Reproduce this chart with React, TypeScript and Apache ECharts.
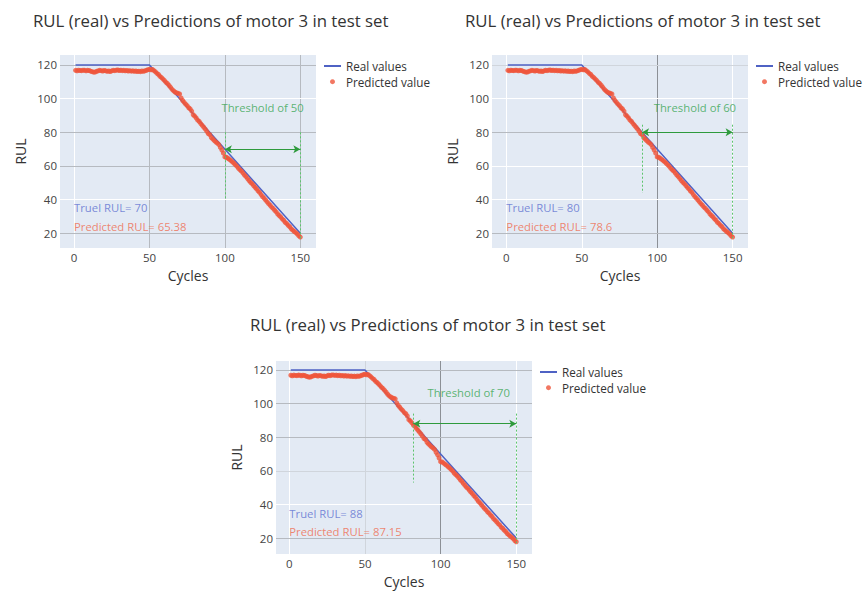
import { useEffect, useRef } from "react";
import * as echarts from "echarts";

const TITLE = "RUL (real) vs Predictions of motor 3 in test set";
const realCycles = [1, 50, 150];
const realRul = [120, 120, 20];
const firstCycle = 1;
const predictedRul = [
  116.8, 116.5, 116.9, 116.7, 116.6, 116.9, 116.8, 116.5, 116.8, 116.7,
  116.3, 116.0, 115.7, 115.8, 116.2, 116.5, 116.8, 116.6, 116.4, 116.7,
  116.5, 116.2, 116.4, 116.1, 116.5, 116.8, 116.6, 116.9, 117.0, 116.7,
  116.9, 116.6, 116.8, 116.5, 116.7, 116.4, 116.6, 116.3, 116.5, 116.2,
  116.4, 116.1, 116.3, 116.0, 116.4, 116.2, 116.5, 116.8, 117.2, 117.4,
  117.1, 117.3, 116.6, 115.9, 115.0, 114.3, 113.2, 112.5, 111.6, 110.7,
  109.6, 108.9, 107.8, 106.7, 105.5, 104.6, 103.9, 103.4, 103.1, 102.8,
  100.4, 98.9, 97.8, 96.7, 95.8, 94.6, 93.9, 92.6, 90.4, 89.6,
  88.5, 87.2, 86.4, 85.2, 84.1, 83.0, 81.9, 80.6, 79.2, 78.6,
  76.9, 76.0, 75.1, 74.2, 73.6, 72.7, 71.0, 69.5, 67.6, 65.4,
  65.2, 64.6, 63.9, 63.2, 62.4, 61.6, 60.7, 59.8, 58.6, 57.7,
  56.9, 55.8, 54.6, 53.7, 52.5, 51.4, 50.3, 49.5, 48.4, 47.3,
  46.4, 45.2, 44.3, 43.0, 41.8, 40.9, 39.8, 38.7, 37.6, 36.7,
  35.6, 34.8, 33.7, 32.8, 31.5, 30.6, 29.7, 28.6, 27.8, 26.5,
  25.8, 24.7, 23.9, 22.7, 21.9, 21.1, 20.4, 19.6, 18.5, 17.8,
];
const thresholds = [50, 60, 70];
const thresholdCycles = [100, 90, 82];
const trueRuls = [70, 80, 88];
const predictedLabels = ["65.38", "78.6", "87.15"];
const dottedTops = [80, 84.5, 94];
const dottedBottoms = [40, 44, 53];
const dottedEnd = 17;
const thresholdTextPos = [
  [125, 95],
  [125, 95],
  [118.6, 106.5],
];
const trueTextY = [35.2, 35.2, 34.7];
const predTextY = [23.9, 23.9, 23.6];
const xTicks = [0, 50, 100, 150];
const yTicks = [20, 40, 60, 80, 100, 120];

const W = "#ffffff";
const G = "#b6bac0";
const L = "#d0d5dc";
const D = "#8c9096";
// gridline shades per chart: vertical (xTicks), horizontal (yTicks)
const vShades = [
  [W, G, G, G],
  [W, W, D, W],
  [W, L, D, W],
];
const hShades = [
  [G, W, G, G, W, G],
  [G, W, W, G, W, L],
  [G, W, L, G, G, G],
];

const layouts = [
  { left: 60, top: 55, width: 256, height: 193, titleLeft: 33, titleTop: 12, legLeft: 323, legTop: 59, xMin: -9.3, xMax: 160.4, yMin: 11.3, yMax: 125.9 },
  { left: 492, top: 55, width: 256, height: 193, titleLeft: 465, titleTop: 12, legLeft: 755, legTop: 59, xMin: -9.5, xMax: 160.2, yMin: 11.3, yMax: 125.9 },
  { left: 276, top: 361, width: 256, height: 193, titleLeft: 250, titleTop: 316, legLeft: 539, legTop: 365, xMin: -8.8, xMax: 160.4, yMin: 10.5, yMax: 125.3 },
];

const FONT = "Open Sans";
const BLUE = "#4f62c4";
const RED = "#EF553B";
const GREEN = "#2e9a3c";

export default function App() {
  const ref = useRef<HTMLDivElement>(null);
  useEffect(() => {
    if (!ref.current) return;
    const chart = echarts.init(ref.current, null, { renderer: "svg" });
    const realData = realCycles.map((c, i) => [c, realRul[i]]);
    const predData = predictedRul.map((v, i) => [firstCycle + i, v]);

    const title: any[] = [];
    const legend: any[] = [];
    const grid: any[] = [];
    const xAxis: any[] = [];
    const yAxis: any[] = [];
    const series: any[] = [];

    layouts.forEach((lay, k) => {
      title.push({
        text: TITLE,
        left: lay.titleLeft,
        top: lay.titleTop,
        padding: 0,
        textStyle: { fontFamily: FONT, fontSize: 16.8, fontWeight: "normal", color: "#333" },
      });
      legend.push({
        orient: "vertical",
        left: lay.legLeft,
        top: lay.legTop,
        itemWidth: 17,
        itemHeight: 5,
        itemGap: 1.7,
        padding: 0,
        selectedMode: false,
        data: [
          { name: "Real values", itemStyle: { opacity: 0 }, lineStyle: { width: 2, color: BLUE } },
          { name: "Predicted value", icon: "circle" },
        ],
        textStyle: { fontFamily: FONT, fontSize: 11.7, color: "#333", lineHeight: 14 },
      });
      grid.push({
        left: lay.left,
        top: lay.top,
        width: lay.width,
        height: lay.height,
        show: true,
        backgroundColor: "#E3EAF4",
        borderWidth: 0,
      });
      xAxis.push({
        type: "value",
        gridIndex: k,
        min: lay.xMin,
        max: lay.xMax,
        name: "Cycles",
        nameLocation: "middle",
        nameGap: 20,
        nameTextStyle: { fontFamily: FONT, fontSize: 14, color: "#333" },
        axisLine: { show: false },
        axisTick: { show: false, customValues: xTicks },
        splitLine: { show: false },
        axisLabel: {
          customValues: xTicks,
          margin: 3,
          fontFamily: FONT,
          fontSize: 11.5,
          color: "#444",
        },
      });
      yAxis.push({
        type: "value",
        gridIndex: k,
        min: lay.yMin,
        max: lay.yMax,
        name: "RUL",
        nameLocation: "middle",
        nameGap: 33,
        nameTextStyle: { fontFamily: FONT, fontSize: 14, color: "#333" },
        axisLine: { show: false },
        axisTick: { show: false, customValues: yTicks },
        splitLine: { show: false },
        axisLabel: {
          customValues: yTicks,
          margin: 3,
          fontFamily: FONT,
          fontSize: 11.5,
          color: "#444",
        },
      });

      // gridlines
      series.push({
        name: "grid" + k,
        type: "line",
        xAxisIndex: k,
        yAxisIndex: k,
        data: realData,
        symbol: "none",
        silent: true,
        lineStyle: { opacity: 0 },
        z: 1,
        markLine: {
          silent: true,
          symbol: "none",
          z: 1,
          label: { show: false },
          emphasis: { disabled: true },
          animation: false,
          data: [
            ...xTicks.map((v, i) => ({ xAxis: v, lineStyle: { color: vShades[k][i], width: 1, type: "solid" } })),
            ...yTicks.map((v, i) => ({ yAxis: v, lineStyle: { color: hShades[k][i], width: 1, type: "solid" } })),
          ],
        },
      });

      series.push({
        name: "Real values",
        type: "line",
        xAxisIndex: k,
        yAxisIndex: k,
        data: realData,
        symbol: "none",
        color: BLUE,
        lineStyle: { color: BLUE, width: 1.5 },
        z: 3,
      });
      series.push({
        name: "Predicted value",
        type: "scatter",
        xAxisIndex: k,
        yAxisIndex: k,
        data: predData,
        symbol: "circle",
        symbolSize: 5,
        itemStyle: { color: RED },
        color: RED,
        z: 4,
      });

      const tc = thresholdCycles[k];
      const top = dottedTops[k];
      const dotted = { color: "#5cc46c", width: 1, type: [2, 2] };
      series.push({
        name: "ann" + k,
        type: "line",
        xAxisIndex: k,
        yAxisIndex: k,
        data: realData,
        symbol: "none",
        silent: true,
        lineStyle: { opacity: 0 },
        z: 5,
        markLine: {
          silent: true,
          z: 5,
          label: { show: false },
          emphasis: { disabled: true },
          animation: false,
          data: [
            [
              { coord: [tc, top], symbol: "none", lineStyle: dotted },
              { coord: [tc, dottedBottoms[k]], symbol: "none" },
            ],
            [
              { coord: [150, top], symbol: "none", lineStyle: dotted },
              { coord: [150, dottedEnd], symbol: "none" },
            ],
            [
              { coord: [tc, trueRuls[k]], symbol: "arrow", symbolSize: [6, 7], lineStyle: { color: GREEN, width: 1, type: "solid" } },
              { coord: [150, trueRuls[k]], symbol: "arrow", symbolSize: [6, 7] },
            ],
          ],
        },
      });

      series.push({
        name: "thr" + k,
        type: "scatter",
        xAxisIndex: k,
        yAxisIndex: k,
        symbolSize: 0,
        silent: true,
        z: 6,
        data: [[thresholdTextPos[k][0], thresholdTextPos[k][1], "Threshold of " + thresholds[k]]],
        label: {
          show: true,
          position: "inside",
          formatter: (p: any) => p.data[2],
          fontFamily: FONT,
          fontSize: 11.3,
          color: "#35a550",
        },
      });
      series.push({
        name: "txt" + k,
        type: "scatter",
        xAxisIndex: k,
        yAxisIndex: k,
        symbolSize: 0,
        silent: true,
        z: 6,
        data: [
          { value: [0, trueTextY[k], "Truel RUL= " + trueRuls[k]], label: { color: "#5d70d0" } },
          { value: [0, predTextY[k], "Predicted RUL= " + predictedLabels[k]], label: { color: "#ef6a4f" } },
        ],
        label: {
          show: true,
          position: "right",
          distance: 0,
          formatter: (p: any) => p.value[2],
          fontFamily: FONT,
          fontSize: 11.3,
        },
      });
    });

    chart.setOption({
      animation: false,
      backgroundColor: "#ffffff",
      title,
      legend,
      grid,
      xAxis,
      yAxis,
      series,
    });
    return () => chart.dispose();
  }, []);
  return (
    <div
      ref={ref}
      style={{ position: "absolute", left: 0, top: 0, width: 863, height: 591 }}
    />
  );
}
